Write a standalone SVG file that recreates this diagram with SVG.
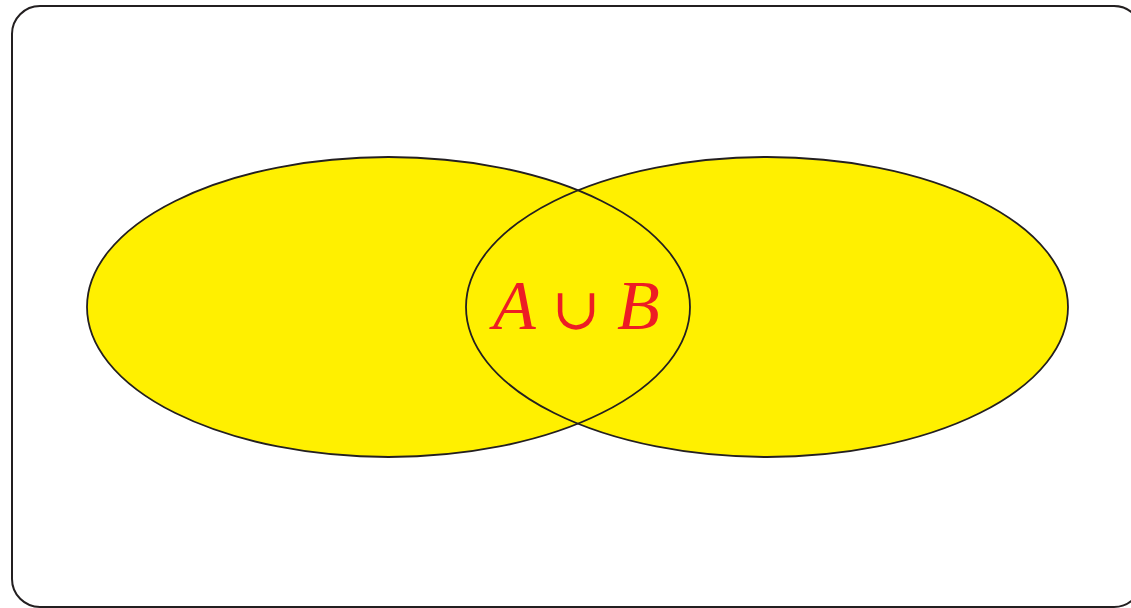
<svg xmlns="http://www.w3.org/2000/svg" width="1131" height="608" viewBox="0 0 1131 608">
<style>
.frame{fill:#fff;stroke:#231f20;stroke-width:2}
.fillset{fill:#fff000;stroke:none}
.outline{fill:none;stroke:#231f20;stroke-width:1.8}
.lbl{font-family:"Liberation Serif",serif;font-style:italic;font-size:70px;fill:#ed1c24}
.op{font-family:"DejaVu Serif","Liberation Serif",serif;font-size:58px;fill:#ed1c24}
</style>
<rect class="frame" x="12" y="6" width="1130" height="601" rx="28" ry="28"/>
<g id="setA-fill"><ellipse class="fillset" cx="388.5" cy="307" rx="301.5" ry="150"/></g>
<g id="setB-fill"><ellipse class="fillset" cx="767" cy="307" rx="301" ry="150"/></g>
<g id="setA"><ellipse class="outline" cx="388.5" cy="307" rx="301.5" ry="150"/></g>
<g id="setB"><ellipse class="outline" cx="767" cy="307" rx="301" ry="150"/></g>
<g id="label">
<text class="lbl" x="493" y="329">A</text>
<text class="op" x="576" y="329" text-anchor="middle">∪</text>
<text class="lbl" x="617" y="329">B</text>
</g>
</svg>
